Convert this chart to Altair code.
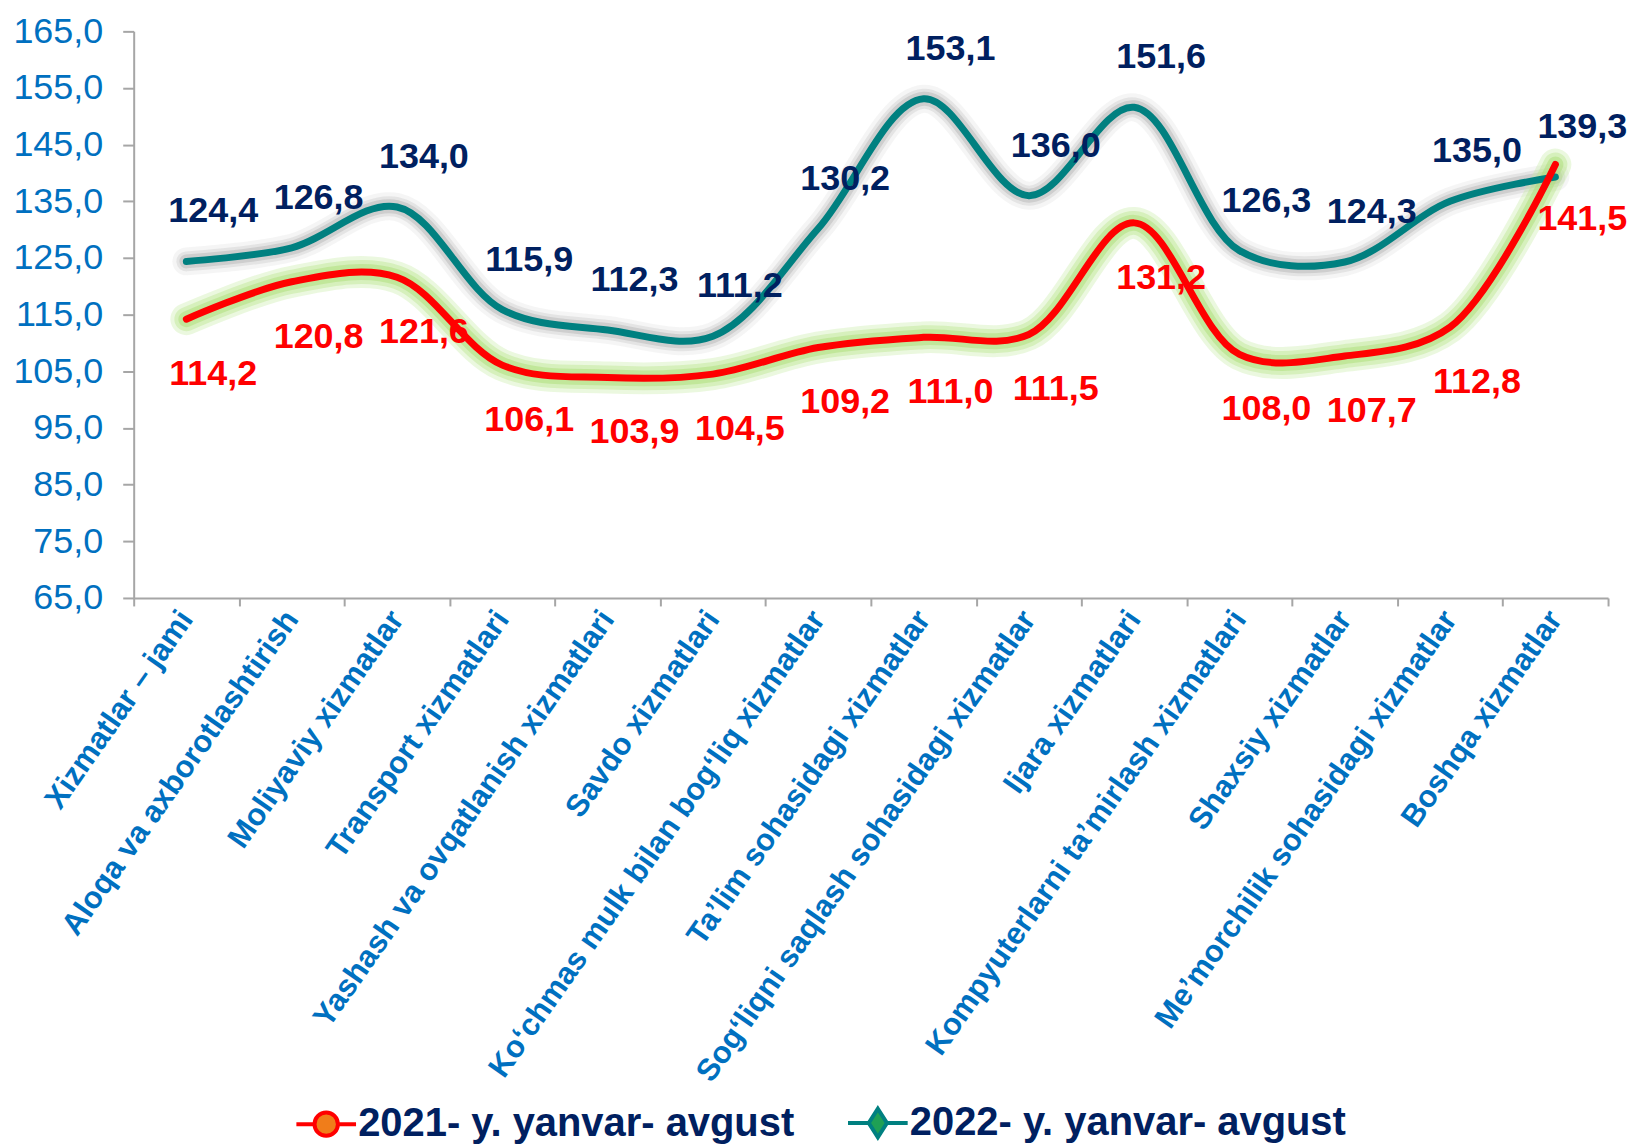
import altair as alt
import pandas as pd

categories = [
    "Xizmatlar – jami",
    "Aloqa va axborotlashtirish",
    "Moliyaviy xizmatlar",
    "Transport xizmatlari",
    "Yashash va ovqatlanish xizmatlari",
    "Savdo xizmatlari",
    "Ko‘chmas mulk bilan bog‘liq xizmatlar",
    "Ta’lim sohasidagi xizmatlar",
    "Sog‘liqni saqlash sohasidagi xizmatlar",
    "Ijara xizmatlari",
    "Kompyuterlarni ta’mirlash xizmatlari",
    "Shaxsiy xizmatlar",
    "Me’morchilik sohasidagi xizmatlar",
    "Boshqa xizmatlar",
]
values_2021 = [114.2, 120.8, 121.6, 106.1, 103.9, 104.5, 109.2, 111.0, 111.5, 131.2, 108.0, 107.7, 112.8, 141.5]
values_2022 = [124.4, 126.8, 134.0, 115.9, 112.3, 111.2, 130.2, 153.1, 136.0, 151.6, 126.3, 124.3, 135.0, 139.3]
series_names = ["2021- y. yanvar- avgust", "2022- y. yanvar- avgust"]
y_ticks = [65, 75, 85, 95, 105, 115, 125, 135, 145, 155, 165]

FONT = "Liberation Sans"
AXIS_GRAY = "#A6A6A6"

df21 = pd.DataFrame({"category": categories, "value": values_2021, "series": series_names[0]})
df22 = pd.DataFrame({"category": categories, "value": values_2022, "series": series_names[1]})
df_all = pd.concat([df21, df22], ignore_index=True)

x_enc = alt.X(
    "category:N",
    sort=categories,
    bandPosition=0.5,
    scale=alt.Scale(type="band", paddingInner=0, paddingOuter=0),
    axis=alt.Axis(
        title=None,
        labelAngle=-55,
        labelAlign="right",
        labelBaseline="middle",
        labelFont=FONT,
        labelFontSize=31,
        labelFontWeight="bold",
        labelColor="#0070C0",
        labelLimit=1000,
        labelPadding=8,
        tickBand="extent",
        tickSize=8,
        tickWidth=2,
        tickColor=AXIS_GRAY,
        domainColor=AXIS_GRAY,
        domainWidth=2,
        grid=False,
    ),
)
y_enc = alt.Y(
    "value:Q",
    scale=alt.Scale(domain=[65, 165], nice=False, zero=False),
    axis=alt.Axis(
        title=None,
        values=y_ticks,
        labelExpr="replace(format(datum.value, '.1f'), '.', ',')",
        labelFont=FONT,
        labelFontSize=36,
        labelColor="#0070C0",
        labelPadding=20,
        tickSize=11,
        tickWidth=2,
        tickColor=AXIS_GRAY,
        domainColor=AXIS_GRAY,
        domainWidth=2,
        grid=False,
    ),
)

label_expr = "replace(format(datum.value, '.1f'), '.', ',')"


def glow(df, color, width, opacity):
    return alt.Chart(df).mark_line(
        interpolate="catmull-rom", color=color, strokeWidth=width, opacity=opacity,
        strokeCap="round", strokeJoin="round",
    ).encode(x=x_enc, y=y_enc)


def line(df, color):
    return alt.Chart(df).mark_line(
        interpolate="catmull-rom", color=color, strokeWidth=7, strokeCap="round", strokeJoin="round"
    ).encode(x=x_enc, y=y_enc)


def labels(df, color, dy):
    return alt.Chart(df).transform_calculate(label=label_expr).mark_text(
        font=FONT, fontSize=36, fontWeight="bold", color=color, dx=27, dy=dy,
        align="center", baseline="middle",
    ).encode(x=x_enc, y=y_enc, text="label:N")


leg = alt.Legend(
    title=None,
    orient="none",
    legendX=173,
    legendY=1074,
    direction="horizontal",
    symbolSize=676,
    symbolStrokeWidth=4,
    symbolOpacity=1,
    labelFont=FONT,
    labelFontSize=40,
    labelFontWeight="bold",
    labelColor="#002060",
    labelOffset=12,
    columnPadding=45,
    padding=0,
    labelLimit=1000,
)
circle_path = "M-2.3,0L-0.9,0M0.9,0L2.3,0M-0.9,0A0.9,0.9,0,1,1,0.9,0A0.9,0.9,0,1,1,-0.9,0Z"
diamond_path = "M-2.3,0L-0.7,0M0.7,0L2.3,0M0,-1.1L0.7,0L0,1.1L-0.7,0Z"

legend_layer = alt.Chart(df_all).mark_point(filled=True, opacity=0).encode(
    x=x_enc,
    y=y_enc,
    fill=alt.Fill("series:N", scale=alt.Scale(domain=series_names, range=["#F07D1A", "#1FA055"]), legend=leg),
    stroke=alt.Stroke("series:N", scale=alt.Scale(domain=series_names, range=["#FF0000", "#008080"]), legend=leg),
    shape=alt.Shape("series:N", scale=alt.Scale(domain=series_names, range=[circle_path, diamond_path]), legend=leg),
)

chart = alt.layer(
    glow(df22, "#B0B0B0", 28, 0.12),
    glow(df22, "#9A9A9A", 20, 0.18),
    glow(df22, "#8A8A8A", 14, 0.25),
    glow(df21, "#C6EBA4", 32, 0.35),
    glow(df21, "#B6E388", 24, 0.4),
    glow(df21, "#A8DC70", 16, 0.45),
    line(df22, "#008080"),
    line(df21, "#FF0000"),
    labels(df22, "#002060", -50),
    labels(df21, "#FF0000", 55),
    legend_layer,
).properties(
    width=1478,
    height=568,
    autosize=alt.AutoSizeParams(type="none"),
    padding={"left": 126, "top": 22, "right": 19, "bottom": 556},
).configure_view(stroke=None)

chart.save("out.html", embed_options={"renderer": "svg", "actions": False})
